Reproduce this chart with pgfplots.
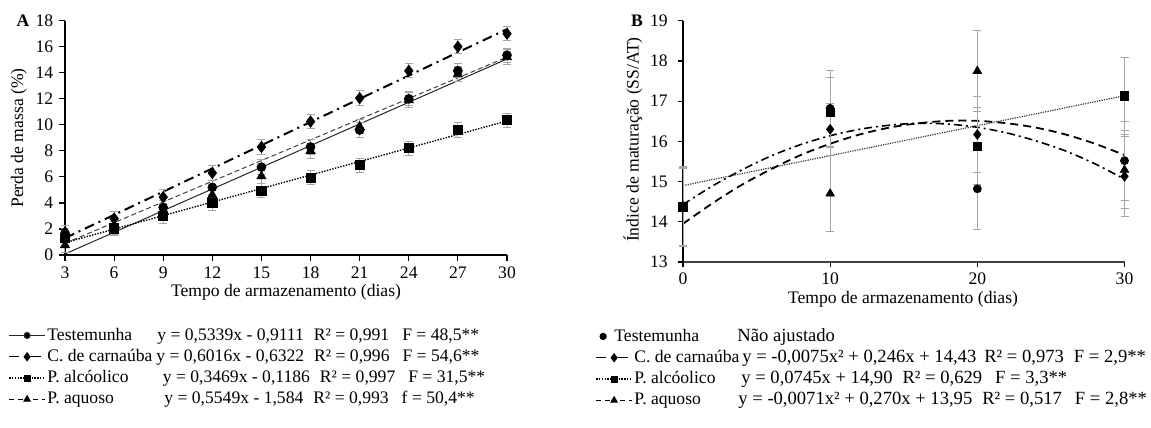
\documentclass[border=0pt]{standalone}
\usepackage{pgfplots}
\pgfplotsset{compat=1.18}
\usepackage{pgfplotstable}
\usepackage{fontspec}
\setmainfont{Liberation Serif}

% ---------- Panel A: mass loss (%) ----------
\pgfplotstableread{
x y e
3 1.50 0.55
6 2.15 0.55
9 3.65 0.55
12 5.20 0.55
15 6.75 0.55
18 8.30 0.55
21 9.60 0.55
24 12.00 0.55
27 14.15 0.55
30 15.35 0.55
}\Atest
\pgfplotstableread{
x y e
3 1.75 0.55
6 2.80 0.55
9 4.45 0.55
12 6.30 0.55
15 8.30 0.55
18 10.25 0.55
21 12.05 0.55
24 14.15 0.55
27 16.00 0.55
30 17.00 0.55
}\Acarn
\pgfplotstableread{
x y e
3 1.30 0.55
6 2.05 0.55
9 3.00 0.55
12 4.00 0.55
15 4.95 0.55
18 5.95 0.55
21 6.90 0.55
24 8.20 0.55
27 9.60 0.55
30 10.35 0.55
}\Aalc
\pgfplotstableread{
x y e
3 0.75 0.55
6 2.30 0.55
9 3.40 0.55
12 4.60 0.55
15 6.05 0.55
18 8.00 0.55
21 9.85 0.55
24 11.90 0.55
27 13.90 0.55
30 15.20 0.55
}\Aaq

% ---------- Panel B: maturation index ----------
\pgfplotstableread{
x y e
0 14.38 1.00
10 16.82 0.95
20 14.82 1.00
30 15.52 0.98
}\Btest
\pgfplotstableread{
x y e
0 14.38 0.97
10 16.30 0.64
20 16.17 0.95
30 15.13 1.00
}\Bcarn
\pgfplotstableread{
x y e
0 14.37 0.95
10 16.72 0.88
20 15.88 0.96
30 17.13 0.95
}\Balc
\pgfplotstableread{
x y e
0 14.38 1.00
10 14.70 0.95
20 17.75 1.00
30 15.29 0.97
}\Baq

\pgfplotsset{
  /pgf/number format/assume math mode=true,
  legend image code/.code={\draw[mark repeat=2,mark phase=2,#1] plot coordinates {(0pt,0pt) (9pt,0pt) (18pt,0pt)};},
  dotlegend/.style={legend image code/.code={\draw plot[only marks,mark=*,mark size=1.6pt] coordinates {(3.5pt,0pt)};}},
  ebar/.style={only marks,
     error bars/y dir=both, error bars/y explicit,
     error bars/error bar style={line width=0.5pt, black!35},
     error bars/error mark options={black!35, line width=0.5pt, mark size=2pt, rotate=90}},
  lsolid/.style={black!85, line width=0.5pt},
  ldash/.style={black!75, line width=0.5pt, dash pattern=on 2.5pt off 1.5pt},
  ldashdot/.style={black, line width=1pt, dash pattern=on 5pt off 2.5pt on 1pt off 2.5pt},
  ldot/.style={black, line width=0.7pt, dash pattern=on 0.7pt off 0.7pt},
  bdashdot/.style={black, line width=0.8pt, dash pattern=on 4pt off 2pt on 1pt off 2pt},
  bdash/.style={black, line width=0.9pt, dash pattern=on 4pt off 2.5pt},
  bdot/.style={black!80, line width=0.6pt, dash pattern=on 0.6pt off 0.6pt},
}
\newcommand{\eqB}[1]{{\fontsize{9.3}{10.5}\selectfont #1}}

\begin{document}
\fontsize{8.8}{10.5}\selectfont
\begin{tikzpicture}
\useasboundingbox (0,0) rectangle (575.5pt,214pt);

% ================= Panel A =================
\begin{axis}[
  at={(32.5pt,86.5pt)}, anchor=south west, scale only axis,
  width=221pt, height=117.15pt,
  xmin=3, xmax=30, ymin=0, ymax=18,
  xtick={3,6,...,30}, ytick={0,2,...,18},
  axis x line=bottom, axis y line=left,
  axis line style={-, line width=0.6pt, black},
  tick style={black, line width=0.6pt}, major tick length=2.8pt, tick align=outside,
  clip=false,
  legend style={draw=none, fill=none, inner sep=0pt, outer sep=0pt,
     at={(-0.128,-0.298)}, anchor=north west, row sep=0pt,
     nodes={inner sep=0.8pt, text height=6.8pt, text depth=2.25pt}},
  legend cell align=left,
]
% fitted lines
\addplot[lsolid, forget plot] coordinates {(3,0.08) (30,15.06)};
\addplot[ldash, forget plot] coordinates {(3,0.90) (30,15.20)};
\addplot[ldashdot, forget plot] coordinates {(3,1.30) (30,17.35)};
\addplot[ldot, forget plot] coordinates {(3,0.95) (30,10.30)};
% observations
\addplot[ebar, forget plot, mark=triangle*, mark size=2.6pt, mark options={fill=black}] table[x=x,y=y,y error=e] {\Aaq};
\addplot[ebar, forget plot, mark=*, mark size=2.2pt, mark options={fill=black}] table[x=x,y=y,y error=e] {\Atest};
\addplot[ebar, forget plot, mark=diamond*, mark size=2.8pt, mark options={fill=black}] table[x=x,y=y,y error=e] {\Acarn};
\addplot[ebar, forget plot, mark=square*, mark size=2.3pt, mark options={fill=black}] table[x=x,y=y,y error=e] {\Aalc};
% legend
\addlegendimage{lsolid, mark=*, mark size=1.5pt, mark options={solid, fill=black}}
\addlegendentry{\makebox[55pt][l]{Testemunha}y = 0,5339x - 0,9111\hspace{5pt}R² = 0,991\hspace{6.5pt}F = 48,5**}
\addlegendimage{ldashdot, line width=0.6pt, mark=diamond*, mark size=1.9pt, mark options={solid, fill=black}}
\addlegendentry{\makebox[54.5pt][l]{C. de carnaúba}y = 0,6016x - 0,6322\hspace{5pt}R² = 0,996\hspace{6.5pt}F = 54,6**}
\addlegendimage{ldot, mark=square*, mark size=1.4pt, mark options={solid, fill=black}}
\addlegendentry{\makebox[57.7pt][l]{P. alcóolico}y = 0,3469x - 0,1186\hspace{5pt}R² = 0,997\hspace{6.5pt}F = 31,5**}
\addlegendimage{black, line width=0.6pt, dash pattern=on 2.5pt off 2pt on 2.5pt off 2pt on 1pt off 2pt, mark=triangle*, mark size=1.7pt, mark options={solid, fill=black}}
\addlegendentry{\makebox[58.5pt][l]{P. aquoso}y = 0,5549x - 1,584\hspace{5pt}R² = 0,993\hspace{6.5pt}f = 50,4**}
\end{axis}

% ================= Panel B =================
\begin{axis}[
  at={(341.5pt,83pt)}, anchor=south west, scale only axis,
  width=220.75pt, height=120.65pt,
  xmin=0, xmax=30, ymin=13, ymax=19,
  xtick={0,10,20,30}, ytick={13,14,...,19},
  axis x line=bottom, axis y line=left,
  x axis line style={-, line width=1.2pt, black!75},
  y axis line style={-, line width=0.6pt, black},
  tick style={black, line width=0.6pt}, major tick length=2.5pt, tick align=outside,
  yticklabel style={xshift=-2pt},
  clip=false,
  legend style={draw=none, fill=none, inner sep=0pt, outer sep=0pt,
     at={(-0.1984,-0.2644)}, anchor=north west, row sep=0pt,
     nodes={inner sep=0.8pt, text height=6.8pt, text depth=2.25pt}},
  legend cell align=left,
]
% fitted curves
\addplot[bdot, forget plot] coordinates {(0,14.90) (30,17.135)};
\addplot[bdashdot, smooth, forget plot] coordinates {
 (0,14.43) (2,14.89) (4,15.29) (6,15.64) (8,15.92) (10,16.14) (12,16.30) (14,16.40)
 (16,16.45) (18,16.43) (20,16.35) (22,16.21) (24,16.01) (26,15.76) (28,15.44) (30,15.06)};
\addplot[bdash, smooth, forget plot] coordinates {
 (0,13.95) (2,14.46) (4,14.92) (6,15.31) (8,15.66) (10,15.94) (12,16.17) (14,16.34)
 (16,16.45) (18,16.51) (20,16.51) (22,16.45) (24,16.34) (26,16.17) (28,15.94) (30,15.66)};
% observations
\addplot[ebar, forget plot, mark=*, mark size=2pt, mark options={fill=black}] table[x=x,y=y,y error=e] {\Btest};
\addplot[ebar, forget plot, mark=diamond*, mark size=2.4pt, mark options={fill=black}] table[x=x,y=y,y error=e] {\Bcarn};
\addplot[ebar, forget plot, mark=triangle*, mark size=2.4pt, mark options={fill=black}] table[x=x,y=y,y error=e] {\Baq};
\addplot[ebar, forget plot, mark=square*, mark size=2.1pt, mark options={fill=black}] table[x=x,y=y,y error=e] {\Balc};
% legend
\addlegendimage{dotlegend}
\addlegendentry{\hspace{-10pt}\makebox[61.5pt][l]{Testemunha}\eqB{Não ajustado}}
\addlegendimage{ldashdot, line width=0.6pt, mark=diamond*, mark size=1.9pt, mark options={solid, fill=black}}
\addlegendentry{\makebox[54pt][l]{C. de carnaúba}\eqB{y = -0,0075x² + 0,246x + 14,43\hspace{4pt}R² = 0,973\hspace{5pt}F = 2,9**}}
\addlegendimage{ldot, mark=square*, mark size=1.4pt, mark options={solid, fill=black}}
\addlegendentry{\makebox[53.5pt][l]{P. alcóolico}\eqB{y = 0,0745x + 14,90\hspace{5pt}R² = 0,629\hspace{6.5pt}F = 3,3**}}
\addlegendimage{black, line width=0.6pt, dash pattern=on 2.5pt off 2pt on 2.5pt off 2pt on 1pt off 2pt, mark=triangle*, mark size=1.7pt, mark options={solid, fill=black}}
\addlegendentry{\makebox[52pt][l]{P. aquoso}\eqB{y = -0,0071x² + 0,270x + 13,95\hspace{5pt}R² = 0,517\hspace{6.5pt}F = 2,8**}}
\end{axis}

% axis titles and panel letters
\node[rotate=90] at (9.5pt,145pt) {Perda de massa (\%)};
\node at (143pt,68pt) {Tempo de armazenamento (dias)};
\node[font=\bfseries] at (11.5pt,203.5pt) {A};
\node[rotate=90] at (316.5pt,144.2pt) {Índice de maturação (SS/AT)};
\node at (451.5pt,64.5pt) {Tempo de armazenamento (dias)};
\node[font=\bfseries] at (318.5pt,203.5pt) {B};
\end{tikzpicture}
\end{document}
